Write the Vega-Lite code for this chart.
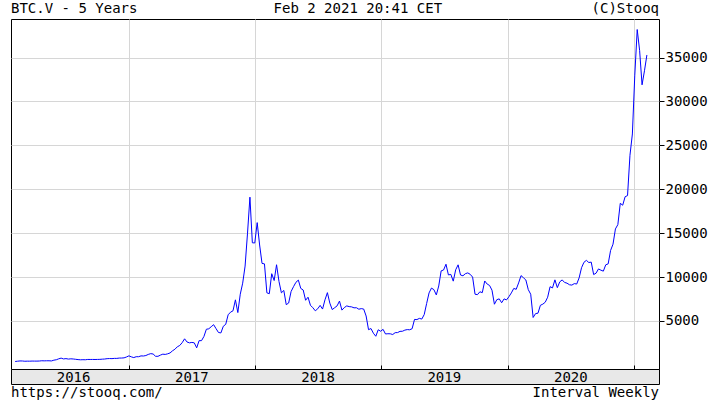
{
  "$schema": "https://vega.github.io/schema/vega-lite/v6.json",
  "background": "white",
  "padding": {"left": 10, "top": 0, "right": 0, "bottom": 0},
  "bounds": "flush",
  "spacing": 0,
  "config": {"font": "DejaVu Sans Mono", "view": {"stroke": null}},
  "vconcat": [
    {
      "width": 648,
      "height": 19,
      "layer": [
        {
          "data": {"values": [{"d": "2016-01-26", "t": "BTC.V - 5 Years"}]},
          "mark": {"type": "text", "align": "left", "baseline": "middle", "fontSize": 14, "font": "DejaVu Sans Mono", "color": "black", "dy": -1},
          "encoding": {
            "x": {"field": "d", "type": "temporal", "axis": null, "scale": {"domain": [{"year": 2016, "month": 1, "date": 26, "utc": true}, {"year": 2021, "month": 3, "date": 14, "utc": true}]}},
            "text": {"field": "t"}
          }
        },
        {
          "data": {"values": [{"d": "2018-10-25", "t": "Feb 2 2021 20:41 CET"}]},
          "mark": {"type": "text", "align": "center", "baseline": "middle", "fontSize": 14, "font": "DejaVu Sans Mono", "color": "black", "dy": -1},
          "encoding": {
            "x": {"field": "d", "type": "temporal", "axis": null, "scale": {"domain": [{"year": 2016, "month": 1, "date": 26, "utc": true}, {"year": 2021, "month": 3, "date": 14, "utc": true}]}},
            "text": {"field": "t"}
          }
        },
        {
          "data": {"values": [{"d": "2021-03-14", "t": "(C)Stooq"}]},
          "mark": {"type": "text", "align": "right", "baseline": "middle", "fontSize": 14, "font": "DejaVu Sans Mono", "color": "black", "dy": -1},
          "encoding": {
            "x": {"field": "d", "type": "temporal", "axis": null, "scale": {"domain": [{"year": 2016, "month": 1, "date": 26, "utc": true}, {"year": 2021, "month": 3, "date": 14, "utc": true}]}},
            "text": {"field": "t"}
          }
        }
      ]
    },
    {
      "width": 648,
      "height": 350,
      "view": {"stroke": "black", "strokeWidth": 1},
      "data": {"values": [
        {"date": "2016-02-07", "close": 376}, {"date": "2016-02-14", "close": 407}, {"date": "2016-02-21", "close": 438}, {"date": "2016-02-28", "close": 433},
        {"date": "2016-03-06", "close": 404}, {"date": "2016-03-13", "close": 414}, {"date": "2016-03-20", "close": 411}, {"date": "2016-03-27", "close": 425},
        {"date": "2016-04-03", "close": 420}, {"date": "2016-04-10", "close": 420}, {"date": "2016-04-17", "close": 428}, {"date": "2016-04-24", "close": 459},
        {"date": "2016-05-01", "close": 448}, {"date": "2016-05-08", "close": 458}, {"date": "2016-05-15", "close": 457}, {"date": "2016-05-22", "close": 440}, {"date": "2016-05-29", "close": 527},
        {"date": "2016-06-05", "close": 574}, {"date": "2016-06-12", "close": 680}, {"date": "2016-06-19", "close": 760}, {"date": "2016-06-26", "close": 665},
        {"date": "2016-07-03", "close": 703}, {"date": "2016-07-10", "close": 650}, {"date": "2016-07-17", "close": 679}, {"date": "2016-07-24", "close": 661}, {"date": "2016-07-31", "close": 624},
        {"date": "2016-08-07", "close": 591}, {"date": "2016-08-14", "close": 570}, {"date": "2016-08-21", "close": 581}, {"date": "2016-08-28", "close": 573},
        {"date": "2016-09-04", "close": 609}, {"date": "2016-09-11", "close": 606}, {"date": "2016-09-18", "close": 609}, {"date": "2016-09-25", "close": 603},
        {"date": "2016-10-02", "close": 610}, {"date": "2016-10-09", "close": 617}, {"date": "2016-10-16", "close": 640}, {"date": "2016-10-23", "close": 657}, {"date": "2016-10-30", "close": 698},
        {"date": "2016-11-06", "close": 711}, {"date": "2016-11-13", "close": 702}, {"date": "2016-11-20", "close": 730}, {"date": "2016-11-27", "close": 728},
        {"date": "2016-12-04", "close": 766}, {"date": "2016-12-11", "close": 769}, {"date": "2016-12-18", "close": 790}, {"date": "2016-12-25", "close": 890},
        {"date": "2017-01-01", "close": 1020}, {"date": "2017-01-08", "close": 905}, {"date": "2017-01-15", "close": 820}, {"date": "2017-01-22", "close": 920}, {"date": "2017-01-29", "close": 920},
        {"date": "2017-02-05", "close": 1015}, {"date": "2017-02-12", "close": 1000}, {"date": "2017-02-19", "close": 1055}, {"date": "2017-02-26", "close": 1180},
        {"date": "2017-03-05", "close": 1270}, {"date": "2017-03-12", "close": 1230}, {"date": "2017-03-19", "close": 970}, {"date": "2017-03-26", "close": 965},
        {"date": "2017-04-02", "close": 1100}, {"date": "2017-04-09", "close": 1210}, {"date": "2017-04-16", "close": 1180}, {"date": "2017-04-23", "close": 1250}, {"date": "2017-04-30", "close": 1350},
        {"date": "2017-05-07", "close": 1590}, {"date": "2017-05-14", "close": 1770}, {"date": "2017-05-21", "close": 2050}, {"date": "2017-05-28", "close": 2200},
        {"date": "2017-06-04", "close": 2520}, {"date": "2017-06-11", "close": 2960}, {"date": "2017-06-18", "close": 2600}, {"date": "2017-06-25", "close": 2500},
        {"date": "2017-07-02", "close": 2550}, {"date": "2017-07-09", "close": 2500}, {"date": "2017-07-16", "close": 1930}, {"date": "2017-07-23", "close": 2750}, {"date": "2017-07-30", "close": 2750},
        {"date": "2017-08-06", "close": 3230}, {"date": "2017-08-13", "close": 4050}, {"date": "2017-08-20", "close": 4100}, {"date": "2017-08-27", "close": 4340},
        {"date": "2017-09-03", "close": 4570}, {"date": "2017-09-10", "close": 4120}, {"date": "2017-09-17", "close": 3680}, {"date": "2017-09-24", "close": 3630},
        {"date": "2017-10-01", "close": 4390}, {"date": "2017-10-08", "close": 4610}, {"date": "2017-10-15", "close": 5700}, {"date": "2017-10-22", "close": 6000}, {"date": "2017-10-29", "close": 6150},
        {"date": "2017-11-05", "close": 7400}, {"date": "2017-11-12", "close": 5950}, {"date": "2017-11-19", "close": 8040}, {"date": "2017-11-26", "close": 9300},
        {"date": "2017-12-03", "close": 11250}, {"date": "2017-12-10", "close": 15000}, {"date": "2017-12-17", "close": 19100}, {"date": "2017-12-24", "close": 13900}, {"date": "2017-12-31", "close": 13880},
        {"date": "2018-01-07", "close": 16200}, {"date": "2018-01-14", "close": 13650}, {"date": "2018-01-21", "close": 11550}, {"date": "2018-01-28", "close": 11500},
        {"date": "2018-02-04", "close": 8200}, {"date": "2018-02-11", "close": 8100}, {"date": "2018-02-18", "close": 10380}, {"date": "2018-02-25", "close": 9600},
        {"date": "2018-03-04", "close": 11400}, {"date": "2018-03-11", "close": 9500}, {"date": "2018-03-18", "close": 8200}, {"date": "2018-03-25", "close": 8470},
        {"date": "2018-04-01", "close": 6850}, {"date": "2018-04-08", "close": 7040}, {"date": "2018-04-15", "close": 8350}, {"date": "2018-04-22", "close": 8900}, {"date": "2018-04-29", "close": 9400},
        {"date": "2018-05-06", "close": 9650}, {"date": "2018-05-13", "close": 8700}, {"date": "2018-05-20", "close": 8520}, {"date": "2018-05-27", "close": 7350},
        {"date": "2018-06-03", "close": 7700}, {"date": "2018-06-10", "close": 6780}, {"date": "2018-06-17", "close": 6500}, {"date": "2018-06-24", "close": 6150},
        {"date": "2018-07-01", "close": 6380}, {"date": "2018-07-08", "close": 6770}, {"date": "2018-07-15", "close": 6350}, {"date": "2018-07-22", "close": 7400}, {"date": "2018-07-29", "close": 8220},
        {"date": "2018-08-05", "close": 7030}, {"date": "2018-08-12", "close": 6290}, {"date": "2018-08-19", "close": 6500}, {"date": "2018-08-26", "close": 6710},
        {"date": "2018-09-02", "close": 7260}, {"date": "2018-09-09", "close": 6230}, {"date": "2018-09-16", "close": 6520}, {"date": "2018-09-23", "close": 6710}, {"date": "2018-09-30", "close": 6630},
        {"date": "2018-10-07", "close": 6600}, {"date": "2018-10-14", "close": 6490}, {"date": "2018-10-21", "close": 6500}, {"date": "2018-10-28", "close": 6330},
        {"date": "2018-11-04", "close": 6400}, {"date": "2018-11-11", "close": 6350}, {"date": "2018-11-18", "close": 5560}, {"date": "2018-11-25", "close": 4000},
        {"date": "2018-12-02", "close": 4130}, {"date": "2018-12-09", "close": 3600}, {"date": "2018-12-16", "close": 3250}, {"date": "2018-12-23", "close": 3990}, {"date": "2018-12-30", "close": 3820},
        {"date": "2019-01-06", "close": 4040}, {"date": "2019-01-13", "close": 3510}, {"date": "2019-01-20", "close": 3540}, {"date": "2019-01-27", "close": 3530},
        {"date": "2019-02-03", "close": 3450}, {"date": "2019-02-10", "close": 3660}, {"date": "2019-02-17", "close": 3670}, {"date": "2019-02-24", "close": 3810},
        {"date": "2019-03-03", "close": 3820}, {"date": "2019-03-10", "close": 3950}, {"date": "2019-03-17", "close": 4010}, {"date": "2019-03-24", "close": 3990}, {"date": "2019-03-31", "close": 4110},
        {"date": "2019-04-07", "close": 5170}, {"date": "2019-04-14", "close": 5150}, {"date": "2019-04-21", "close": 5290}, {"date": "2019-04-28", "close": 5210},
        {"date": "2019-05-05", "close": 5720}, {"date": "2019-05-12", "close": 6980}, {"date": "2019-05-19", "close": 8190}, {"date": "2019-05-26", "close": 8740},
        {"date": "2019-06-02", "close": 8560}, {"date": "2019-06-09", "close": 7960}, {"date": "2019-06-16", "close": 8980}, {"date": "2019-06-23", "close": 10700}, {"date": "2019-06-30", "close": 10800},
        {"date": "2019-07-07", "close": 11460}, {"date": "2019-07-14", "close": 10240}, {"date": "2019-07-21", "close": 10300}, {"date": "2019-07-28", "close": 9530},
        {"date": "2019-08-04", "close": 10820}, {"date": "2019-08-11", "close": 11390}, {"date": "2019-08-18", "close": 10230}, {"date": "2019-08-25", "close": 10140},
        {"date": "2019-09-01", "close": 10380}, {"date": "2019-09-08", "close": 10470}, {"date": "2019-09-15", "close": 10310}, {"date": "2019-09-22", "close": 9990}, {"date": "2019-09-29", "close": 8040},
        {"date": "2019-10-06", "close": 7990}, {"date": "2019-10-13", "close": 8320}, {"date": "2019-10-20", "close": 8220}, {"date": "2019-10-27", "close": 9550},
        {"date": "2019-11-03", "close": 9200}, {"date": "2019-11-10", "close": 9040}, {"date": "2019-11-17", "close": 8500}, {"date": "2019-11-24", "close": 6900},
        {"date": "2019-12-01", "close": 7420}, {"date": "2019-12-08", "close": 7510}, {"date": "2019-12-15", "close": 7070}, {"date": "2019-12-22", "close": 7510}, {"date": "2019-12-29", "close": 7390},
        {"date": "2020-01-05", "close": 7760}, {"date": "2020-01-12", "close": 8190}, {"date": "2020-01-19", "close": 8700}, {"date": "2020-01-26", "close": 8600},
        {"date": "2020-02-02", "close": 9330}, {"date": "2020-02-09", "close": 10160}, {"date": "2020-02-16", "close": 9920}, {"date": "2020-02-23", "close": 9660},
        {"date": "2020-03-01", "close": 8560}, {"date": "2020-03-08", "close": 8040}, {"date": "2020-03-15", "close": 5390}, {"date": "2020-03-22", "close": 5830}, {"date": "2020-03-29", "close": 5880},
        {"date": "2020-04-05", "close": 6780}, {"date": "2020-04-12", "close": 6910}, {"date": "2020-04-19", "close": 7130}, {"date": "2020-04-26", "close": 7700},
        {"date": "2020-05-03", "close": 8900}, {"date": "2020-05-10", "close": 8760}, {"date": "2020-05-17", "close": 9680}, {"date": "2020-05-24", "close": 8790}, {"date": "2020-05-31", "close": 9450},
        {"date": "2020-06-07", "close": 9670}, {"date": "2020-06-14", "close": 9380}, {"date": "2020-06-21", "close": 9300}, {"date": "2020-06-28", "close": 9120},
        {"date": "2020-07-05", "close": 9080}, {"date": "2020-07-12", "close": 9250}, {"date": "2020-07-19", "close": 9200}, {"date": "2020-07-26", "close": 9900},
        {"date": "2020-08-02", "close": 11060}, {"date": "2020-08-09", "close": 11680}, {"date": "2020-08-16", "close": 11900}, {"date": "2020-08-23", "close": 11650}, {"date": "2020-08-30", "close": 11700},
        {"date": "2020-09-06", "close": 10280}, {"date": "2020-09-13", "close": 10440}, {"date": "2020-09-20", "close": 10920}, {"date": "2020-09-27", "close": 10780},
        {"date": "2020-10-04", "close": 10670}, {"date": "2020-10-11", "close": 11390}, {"date": "2020-10-18", "close": 11500}, {"date": "2020-10-25", "close": 13030},
        {"date": "2020-11-01", "close": 13740}, {"date": "2020-11-08", "close": 15480}, {"date": "2020-11-15", "close": 15970}, {"date": "2020-11-22", "close": 18400}, {"date": "2020-11-29", "close": 18180},
        {"date": "2020-12-06", "close": 19150}, {"date": "2020-12-13", "close": 19280}, {"date": "2020-12-20", "close": 23870}, {"date": "2020-12-27", "close": 26300},
        {"date": "2021-01-03", "close": 33000}, {"date": "2021-01-10", "close": 38200}, {"date": "2021-01-17", "close": 35800}, {"date": "2021-01-24", "close": 31900}, {"date": "2021-01-31", "close": 33500},
        {"date": "2021-02-07", "close": 35300}
      ]},
      "mark": {"type": "line", "color": "#0000ff", "strokeWidth": 1, "clip": true},
      "encoding": {
        "x": {
          "field": "date", "type": "temporal",
          "scale": {"domain": [{"year": 2016, "month": 1, "date": 26, "utc": true}, {"year": 2021, "month": 3, "date": 14, "utc": true}]},
          "axis": {
            "orient": "bottom",
            "values": [
              {"year": 2017, "month": 1, "date": 1, "utc": true},
              {"year": 2018, "month": 1, "date": 1, "utc": true},
              {"year": 2019, "month": 1, "date": 1, "utc": true},
              {"year": 2020, "month": 1, "date": 1, "utc": true},
              {"year": 2021, "month": 1, "date": 1, "utc": true}
            ],
            "labels": false, "title": null, "domain": false,
            "grid": true, "gridColor": "#d6d6d6", "gridWidth": 1,
            "ticks": true, "tickSize": -4, "tickColor": "black", "tickWidth": 1
          }
        },
        "y": {
          "field": "close", "type": "quantitative",
          "scale": {"domain": [-480, 39400], "nice": false, "zero": false},
          "axis": {
            "orient": "right",
            "values": [5000, 10000, 15000, 20000, 25000, 30000, 35000],
            "format": "d", "title": null, "domain": false,
            "grid": true, "gridColor": "#d6d6d6", "gridWidth": 1,
            "ticks": true, "tickSize": 5, "tickColor": "black", "tickWidth": 1,
            "labelFont": "DejaVu Sans Mono", "labelFontSize": 14, "labelColor": "black", "labelPadding": 1
          }
        }
      }
    },
    {
      "width": 648,
      "height": 15,
      "view": {"fill": "#e8e8e8", "stroke": "black", "strokeWidth": 1},
      "data": {"values": [
        {"d": "2016-07-25", "label": "2016"},
        {"d": "2017-07-02", "label": "2017"},
        {"d": "2018-07-02", "label": "2018"},
        {"d": "2019-07-02", "label": "2019"},
        {"d": "2020-07-02", "label": "2020"}
      ]},
      "mark": {"type": "text", "align": "center", "baseline": "middle", "fontSize": 14, "font": "DejaVu Sans Mono", "color": "black", "dy": 1},
      "encoding": {
        "x": {"field": "d", "type": "temporal", "axis": null, "scale": {"domain": [{"year": 2016, "month": 1, "date": 26, "utc": true}, {"year": 2021, "month": 3, "date": 14, "utc": true}]}},
        "text": {"field": "label"}
      }
    },
    {
      "width": 648,
      "height": 18,
      "layer": [
        {
          "data": {"values": [{"d": "2016-01-26", "t": "https://stooq.com/"}]},
          "mark": {"type": "text", "align": "left", "baseline": "middle", "fontSize": 14, "font": "DejaVu Sans Mono", "color": "black"},
          "encoding": {
            "x": {"field": "d", "type": "temporal", "axis": null, "scale": {"domain": [{"year": 2016, "month": 1, "date": 26, "utc": true}, {"year": 2021, "month": 3, "date": 14, "utc": true}]}},
            "text": {"field": "t"}
          }
        },
        {
          "data": {"values": [{"d": "2021-03-14", "t": "Interval Weekly"}]},
          "mark": {"type": "text", "align": "right", "baseline": "middle", "fontSize": 14, "font": "DejaVu Sans Mono", "color": "black"},
          "encoding": {
            "x": {"field": "d", "type": "temporal", "axis": null, "scale": {"domain": [{"year": 2016, "month": 1, "date": 26, "utc": true}, {"year": 2021, "month": 3, "date": 14, "utc": true}]}},
            "text": {"field": "t"}
          }
        }
      ]
    }
  ]
}
